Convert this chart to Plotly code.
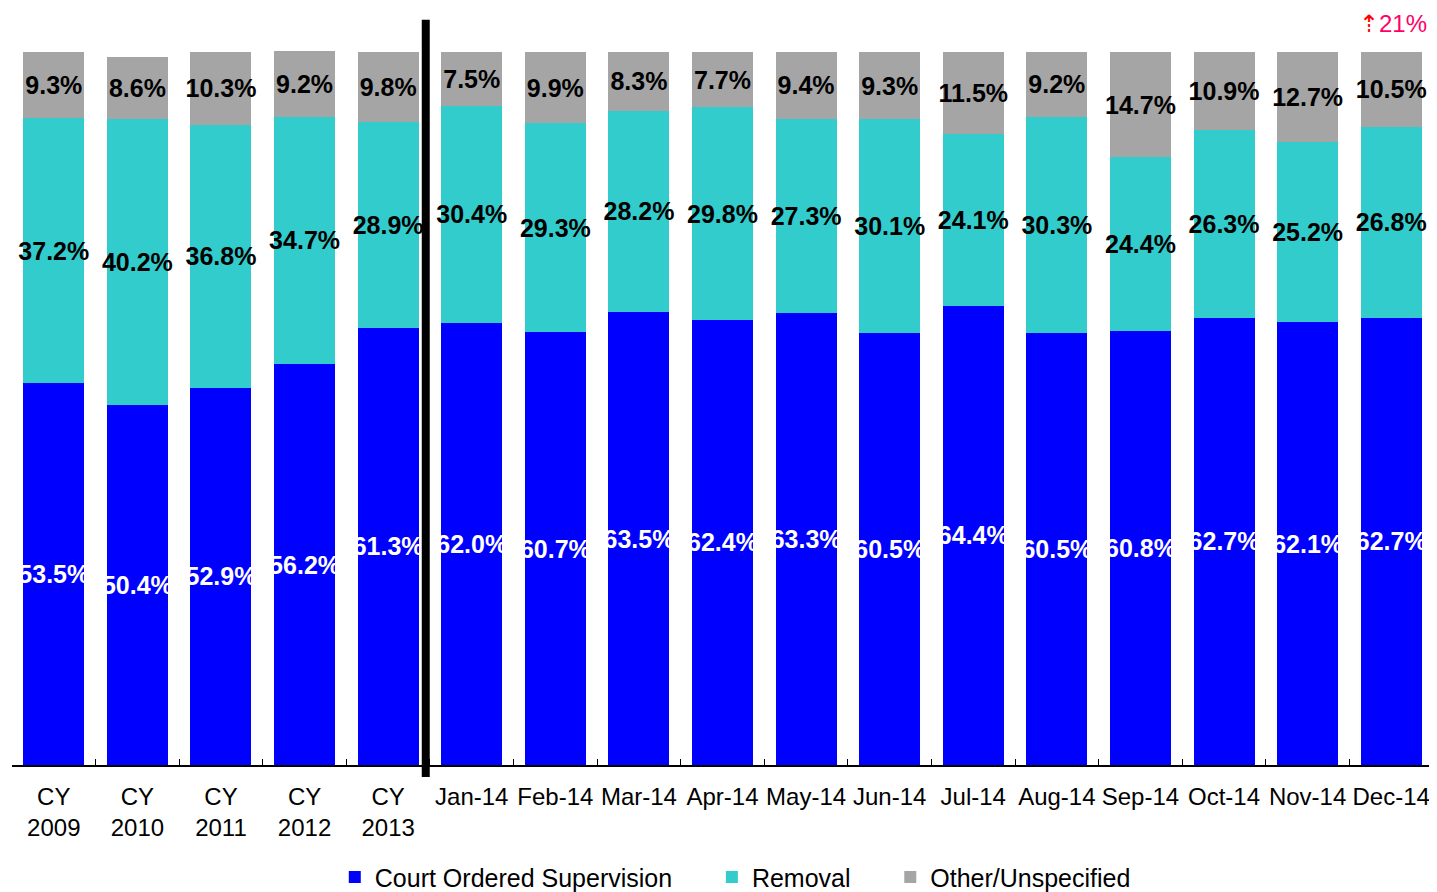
import plotly.graph_objects as go

categories = ["CY<br>2009", "CY<br>2010", "CY<br>2011", "CY<br>2012", "CY<br>2013",
              "Jan-14", "Feb-14", "Mar-14", "Apr-14", "May-14", "Jun-14", "Jul-14",
              "Aug-14", "Sep-14", "Oct-14", "Nov-14", "Dec-14"]
court = [53.5, 50.4, 52.9, 56.2, 61.3, 62.0, 60.7, 63.5, 62.4, 63.3, 60.5, 64.4, 60.5, 60.8, 62.7, 62.1, 62.7]
removal = [37.2, 40.2, 36.8, 34.7, 28.9, 30.4, 29.3, 28.2, 29.8, 27.3, 30.1, 24.1, 30.3, 24.4, 26.3, 25.2, 26.8]
other = [9.3, 8.6, 10.3, 9.2, 9.8, 7.5, 9.9, 8.3, 7.7, 9.4, 9.3, 11.5, 9.2, 14.7, 10.9, 12.7, 10.5]

FONT = "Liberation Sans, Arial, sans-serif"
PAD = "\u00a0" * 5
series = [
    ("Court Ordered Supervision" + PAD, court, "#0000FF", "white"),
    ("Removal" + PAD, removal, "#33CCCC", "black"),
    ("Other/Unspecified", other, "#A5A5A5", "black"),
]

fig = go.Figure()
for name, vals, color, tcolor in series:
    fig.add_trace(go.Bar(
        x=categories, y=vals, name=name, marker=dict(color=color, line=dict(width=0)),
        text=[f"{v:.1f}%" for v in vals], textposition="inside", insidetextanchor="middle",
        textangle=0, constraintext="none", cliponaxis=False,
        textfont=dict(family=FONT, size=25, color=tcolor, weight="bold"),
        hoverinfo="skip",
    ))

fig.add_shape(type="line", xref="x", yref="paper", x0=4.45, x1=4.45, y0=-0.016, y1=0.995,
              line=dict(color="black", width=8))

fig.add_annotation(xref="paper", yref="paper", x=0.9975, y=0.99, xanchor="right", yanchor="middle",
                   text="<span style='color:#FF0000'>⇡</span>21%", showarrow=False,
                   font=dict(family=FONT, size=24, color="#FF0066"))

# page body has an 8px margin, so the figure is sized 8px smaller in each direction
fig.update_layout(
    barmode="stack", bargap=0.27,
    width=1429, height=884,
    margin=dict(l=4, r=4, t=8, b=127, autoexpand=False),
    plot_bgcolor="white", paper_bgcolor="white",
    font=dict(family=FONT, size=24, color="black"),
    showlegend=True,
    legend=dict(orientation="h", x=0.509, xanchor="center", y=-0.15, yanchor="middle",
                traceorder="normal", font=dict(size=25)),
    xaxis=dict(showline=True, linecolor="black", linewidth=1.5, ticks="inside",
               tickson="boundaries", ticklen=6, tickcolor="black", tickangle=0,
               ticklabelstandoff=9, tickfont=dict(size=24), automargin=False),
    yaxis=dict(range=[0, 105], visible=False, showgrid=False),
)

fig.write_html("out.html")
